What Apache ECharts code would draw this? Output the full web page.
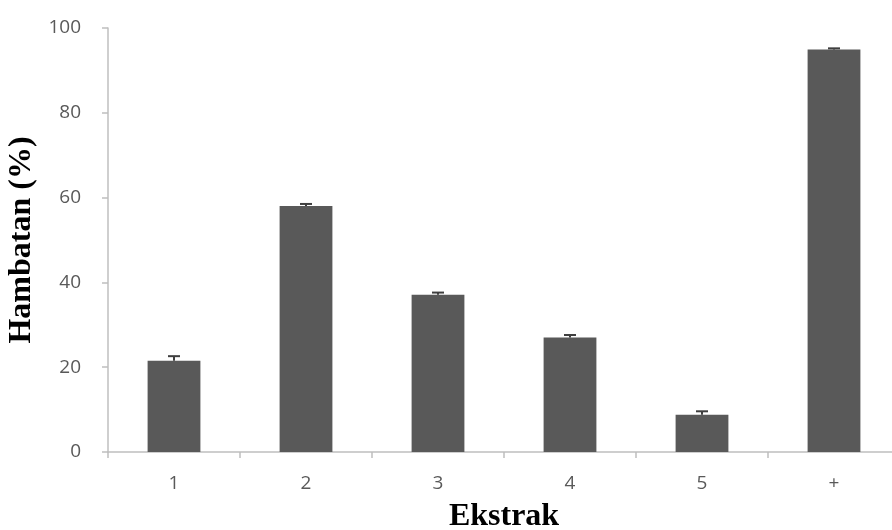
<!DOCTYPE html>
<html><head><meta charset="utf-8">
<script src="https://cdn.jsdelivr.net/npm/echarts@6/dist/echarts.min.js"></script>
<style>html,body{margin:0;padding:0;background:#fff;overflow:hidden;width:892px;height:530px}#c{width:910px;height:530px}</style>
</head><body><div id="c"></div>
<script>
const categories = ['1','2','3','4','5','+'];
const values = [21.5, 58.0, 37.1, 27.0, 8.8, 94.9];
const errors = [1.1, 0.5, 0.5, 0.6, 0.8, 0.3];
const yTicks = [0, 20, 40, 60, 80, 100];

const chart = echarts.init(document.getElementById('c'));
chart.setOption({
  animation: false,
  grid: {left: 108, top: 28, width: 792, height: 424, containLabel: false, outerBoundsMode: 'none'},
  xAxis: {
    type: 'category', data: categories,
    axisLine: {lineStyle: {color: '#bfbfbf', width: 1.5}},
    axisTick: {show: true, length: 6, lineStyle: {color: '#bfbfbf', width: 1.5}},
    axisLabel: {color: '#595959', fontSize: 19, fontFamily: 'Open Sans', margin: 22},
    name: 'Ekstrak', nameLocation: 'middle', nameGap: 49,
    nameTextStyle: {fontFamily: 'Liberation Serif', fontWeight: 'bold', fontSize: 32, color: '#000'}
  },
  yAxis: {
    type: 'value', min: 0, max: 100, interval: 20,
    axisLine: {show: true, lineStyle: {color: '#bfbfbf', width: 1.5}},
    axisTick: {show: true, length: 6, lineStyle: {color: '#bfbfbf', width: 1.5}},
    splitLine: {show: false},
    axisLabel: {color: '#595959', fontSize: 19, fontFamily: 'Open Sans', margin: 27,
      formatter: v => yTicks.includes(v) ? String(v) : ''},
    name: 'Hambatan (%)', nameLocation: 'middle', nameGap: 58,
    nameTextStyle: {fontFamily: 'Liberation Serif', fontWeight: 'bold', fontSize: 32, color: '#000'}
  },
  series: [
    {type: 'bar', data: values, barWidth: '40%',
     itemStyle: {color: '#595959'}},
    {type: 'custom', z: 5,
     data: values.map((v, i) => [i, v, errors[i]]),
     renderItem: function (params, api) {
       const i = api.value(0), v = api.value(1), e = api.value(2);
       const base = api.coord([i, v]);
       const top = api.coord([i, v + e]);
       const hw = 6;
       return {type: 'group', children: [
         {type: 'line', shape: {x1: base[0], y1: base[1], x2: top[0], y2: top[1]},
          style: {stroke: '#3f3f3f', lineWidth: 2}},
         {type: 'line', shape: {x1: top[0] - hw, y1: top[1], x2: top[0] + hw, y2: top[1]},
          style: {stroke: '#3f3f3f', lineWidth: 2}}
       ]};
     }}
  ]
});
</script></body></html>
